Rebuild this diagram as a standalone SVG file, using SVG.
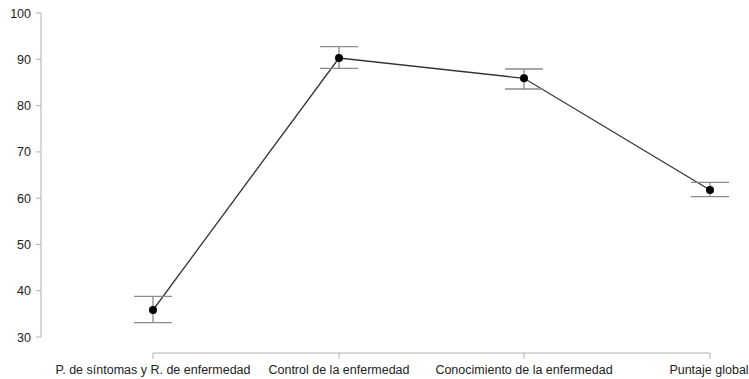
<svg xmlns="http://www.w3.org/2000/svg" width="749" height="379" viewBox="0 0 749 379">
<style>
text{font-family:"Liberation Sans",Arial,sans-serif;font-size:12.5px;fill:#222}
.ax{stroke:#b0b0b0;stroke-width:1;fill:none}
.eb{stroke:#8a8a8a;stroke-width:1.3;fill:none}
.ln{stroke:#333;stroke-width:1.3;fill:none}
.pt{fill:#000}
</style>
<rect width="749" height="379" fill="#fff"/>
<g id="y-axis">
<path class="ax" d="M41,13V337M36,13H41M36,59.3H41M36,105.6H41M36,151.9H41M36,198.2H41M36,244.4H41M36,290.7H41M36,337H41"/>
<g text-anchor="end">
<text x="31" y="17.5">100</text>
<text x="31" y="63.8">90</text>
<text x="31" y="110.1">80</text>
<text x="31" y="156.4">70</text>
<text x="31" y="202.7">60</text>
<text x="31" y="248.9">50</text>
<text x="31" y="295.2">40</text>
<text x="31" y="341.5">30</text>
</g>
</g>
<g id="x-axis">
<path class="ax" d="M153,353H710M153,353V359M339,353V359M524,353V359M710,353V359"/>
<text x="153" y="373.5" text-anchor="middle">P. de síntomas y R. de enfermedad</text>
<text x="339" y="373.5" text-anchor="middle">Control de la enfermedad</text>
<text x="524" y="373.5" text-anchor="middle">Conocimiento de la enfermedad</text>
<text x="709" y="373.5" text-anchor="middle">Puntaje global</text>
</g>
<g id="connectors">
<polyline class="ln" points="153,310 339,58 524,78.3 710,190"/>
</g>
<g id="p1">
<path class="eb" d="M134,296.3H172M134,322.7H172M153,296.3V322.7"/>
<circle class="pt" cx="153" cy="310" r="4"/>
</g>
<g id="p2">
<path class="eb" d="M320,46.7H358M320,68.3H358M339,46.7V68.3"/>
<circle class="pt" cx="339" cy="58" r="4"/>
</g>
<g id="p3">
<path class="eb" d="M505,69H543M505,89H543M524,69V89"/>
<circle class="pt" cx="524" cy="78.3" r="4"/>
</g>
<g id="p4">
<path class="eb" d="M691,182.3H729M691,196.7H729M710,182.3V196.7"/>
<circle class="pt" cx="710" cy="190" r="4"/>
</g>
</svg>
